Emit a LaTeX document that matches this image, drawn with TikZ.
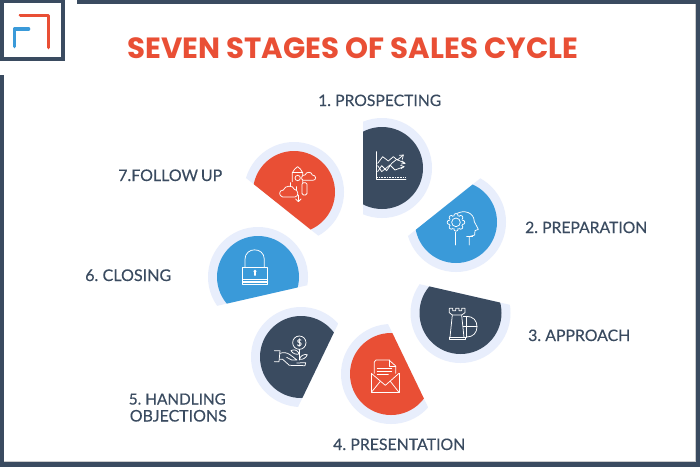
\documentclass[tikz,border=0pt]{standalone}
\usepackage{graphicx}
\usepackage{fontspec}
\setmainfont[FakeBold=.3,WordSpace=.7]{Lato}
\newfontfamily\titlefont{Poppins}
\definecolor{navy}{HTML}{3A4B60}
\definecolor{skyb}{HTML}{3A9AD9}
\definecolor{redo}{HTML}{E94F35}
\definecolor{halo}{HTML}{E8EEFC}
\newcommand{\stagedisc}[4]{%
  \begin{scope}
    \clip[shift={(#1,#2)},rotate=#3] (-19,-60) rectangle (60,60);
    \fill[halo] (#1,#2) circle[radius=50pt];
    \fill[#4] (#1,#2) circle[radius=41pt];
  \end{scope}}
\newcommand{\fitw}[2]{\resizebox{#1pt}{!}{#2}}
\tikzset{
  lbl/.style={anchor=base west,inner sep=0pt,text=navy,font=\fontsize{14}{14}\selectfont},
  ico/.style={draw=white,line width=.75pt,line join=round,line cap=round},
  frame/.style={fill=navy,draw=none},
}
\begin{document}
\begin{tikzpicture}[x=1pt,y=-1pt]
\useasboundingbox (0,0) rectangle (700,467);
\fill[white] (0,0) rectangle (700,467);
% frame
\draw[color=black!20,line width=.7pt] (4,461.6) -- (695.6,461.6) -- (695.6,4);
\fill[frame] (77,0) rectangle (700,4);
\fill[frame] (696,0) rectangle (700,467);
\fill[frame] (0,462) rectangle (700,467);
\fill[frame] (0,75) rectangle (4,467);
% logo
\draw[navy,line width=4pt] (2,1) rectangle (62.5,59);
\draw[redo,line width=3.6pt,line cap=round,line join=round] (20.5,15.3) -- (48.5,15.3) -- (48.5,47.5);
\draw[skyb,line width=3.6pt,line cap=round,line join=round] (28.5,29) -- (14.5,29) -- (14.5,46.5);
% title
\node[anchor=base west,inner sep=0pt,text=redo] (title) at (127,58) {\fitw{451}{\fontsize{28}{28}\titlefont\bfseries SEVEN STAGES OF SALES CYCLE}};
% discs
\stagedisc{382}{168}{0}{navy}
\stagedisc{456}{222}{-51.43}{skyb}
\stagedisc{460.5}{313}{-102.86}{navy}
\stagedisc{391}{374}{-154.29}{redo}
\stagedisc{301}{357}{-205.71}{navy}
\stagedisc{258}{277}{-257.14}{skyb}
\stagedisc{294}{192}{-308.57}{redo}
% labels
\node[lbl] (l1) at (318,106) {\fitw{123}{1. PROSPECTING}};
\node[lbl] (l2) at (525,233) {\fitw{122}{2. PREPARATION}};
\node[lbl] (l3) at (528,341) {\fitw{102}{3. APPROACH}};
\node[lbl] (l4) at (333,450) {\fitw{132}{4. PRESENTATION}};
\node[lbl,anchor=base east] (l5a) at (226,404.5) {\fitw{97}{5. HANDLING}};
\node[lbl,anchor=base east] (l5b) at (227,421.5) {\fitw{97}{OBJECTIONS}};
\node[lbl] (l6) at (85,281) {\fitw{86}{6. CLOSING}};
\node[lbl] (l7) at (118,181) {\fitw{104}{7.FOLLOW UP}};
% icon 1: chart
\begin{scope}[shift={(340,100)},scale=.3333,ico]
  \draw (108,155) -- (108,237) -- (198,237);
  \draw[dash pattern=on .8pt off .8pt,line cap=butt] (112,232) -- (196,232);
  \draw (113,190) -- (128,170) -- (145,183) -- (160,170) -- (172,180) -- (190,165);
  \draw (113,197) -- (125,215) -- (150,195) -- (165,210) -- (192,200);
  \draw (113,215) -- (125,197) -- (140,212) -- (155,190) -- (170,178) -- (195,190);
  \draw (178,166) -- (190,165) -- (187,178);
  \draw (182,196) -- (192,200) -- (183,206);
  \draw (186,183) -- (195,190) -- (184,192);
\end{scope}
% icon 2: head with gear
\begin{scope}[shift={(340,100)},scale=.3333,ico]
  \draw (352,340) .. controls (370,330) and (402,335) .. (403,365) -- (415,388) -- (405,392) -- (404,405) -- (388,410) -- (388,435);
  \draw (380,410) -- (398,410);
  \draw (345,397) -- (345,435);
  \foreach \a in {0,45,...,315}
    \draw[fill=skyb] (348,367) ++(\a:20) circle[radius=6.5];
  \fill[skyb] (348,367) circle[radius=19];
  \draw (348,367) circle[radius=13];
\end{scope}
% icon 3: rook and shield
\begin{scope}[shift={(240,280)},scale=.3333,ico]
  \draw (628,85) -- (628,98) -- (637,105) -- (665,105) -- (675,98) -- (675,85) -- (665,85) -- (665,92) -- (657,92) -- (657,85) -- (647,85) -- (647,92) -- (638,92) -- (638,85) -- cycle;
  \draw (637,105) -- (630,172);
  \draw (665,105) -- (672,172);
  \draw (627,172) rectangle (675,179);
  \draw (680,109) .. controls (700,109) and (711,122) .. (711,140) .. controls (711,158) and (700,171) .. (680,171);
  \draw (670,109) -- (680,109) -- (680,171) -- (672,171);
  \draw (670,140) -- (711,140);
\end{scope}
% icon 4: letter
\begin{scope}[shift={(240,280)},scale=.3333,ico]
  \draw (403,280) -- (403,246) -- (408,240) -- (447,240) -- (467,258) -- (467,280);
  \draw (447,240) -- (447,258) -- (467,258);
  \draw (412,265) -- (455,265);
  \draw (412,273) -- (455,273);
  \draw (412,282) -- (445,282);
  \draw (394,280) -- (394,337) -- (477,337) -- (477,280);
  \draw (394,280) -- (436,316) -- (477,280);
  \draw (394,337) -- (421,304);
  \draw (477,337) -- (451,304);
\end{scope}
% icon 5: hand and coin plant
\begin{scope}[shift={(240,280)},scale=.3333,ico]
  \draw (178,188) circle[radius=20];
  \node[text=white,inner sep=0pt,font=\fontsize{9}{9}\selectfont] (dollar) at (178,188) {\$};
  \draw (178,208) -- (178,240);
  \draw (178,222) .. controls (172,208) and (160,208) .. (153,212) .. controls (158,222) and (170,224) .. (178,222);
  \draw (178,238) .. controls (182,226) and (192,222) .. (202,224) .. controls (198,234) and (188,240) .. (178,238);
  \draw (103,212) -- (120,212) -- (117,245) -- (103,245);
  \draw (120,220) .. controls (130,216) and (142,218) .. (150,224) -- (171,240) -- (155,240) -- (140,232);
  \draw (119,238) -- (128,238) -- (148,256) -- (195,257) -- (197,248) -- (170,249);
\end{scope}
% icon 6: padlock
\begin{scope}[shift={(200,130)},scale=.3333,ico]
  \draw (135,412) -- (135,388) .. controls (135,350) and (193,350) .. (193,388) -- (193,412);
  \draw (128,412) rectangle (203,464);
  \draw (128,447) -- (203,447);
  \draw (128,453) -- (203,453);
  \draw (128,458) -- (203,458);
  \fill[white] (165,424) circle[radius=4.8];
  \draw[line width=1.1pt] (165,424) -- (165,436);
\end{scope}
% icon 7: rocket and clouds
\begin{scope}[shift={(200,130)},scale=.3333,ico]
  \draw (277,155) -- (277,128) .. controls (280,120) and (288,113) .. (293,110) .. controls (298,113) and (305,120) .. (308,128) -- (308,158);
  \draw (277,128) -- (308,128);
  \draw (293,144) circle[radius=8];
  \draw[fill=redo] (310,151) .. controls (300,148) and (305,133) .. (315,135) .. controls (320,123) and (335,125) .. (337,135) .. controls (350,135) and (350,152) .. (338,151) -- cycle;
  \draw (272,158) -- (272,180);
  \draw[rounded corners=1.5pt] (306,158) rectangle (321,195);
  \draw (290,170) -- (290,190);
  \draw (296,195) -- (296,212);
  \draw (287,207) -- (295,215) -- (303,207);
  \draw[fill=redo] (248,201) .. controls (235,198) and (236,180) .. (250,180) .. controls (255,165) and (280,165) .. (283,178) .. controls (295,178) and (298,200) .. (285,201) -- cycle;
\end{scope}
\end{tikzpicture}
\end{document}
